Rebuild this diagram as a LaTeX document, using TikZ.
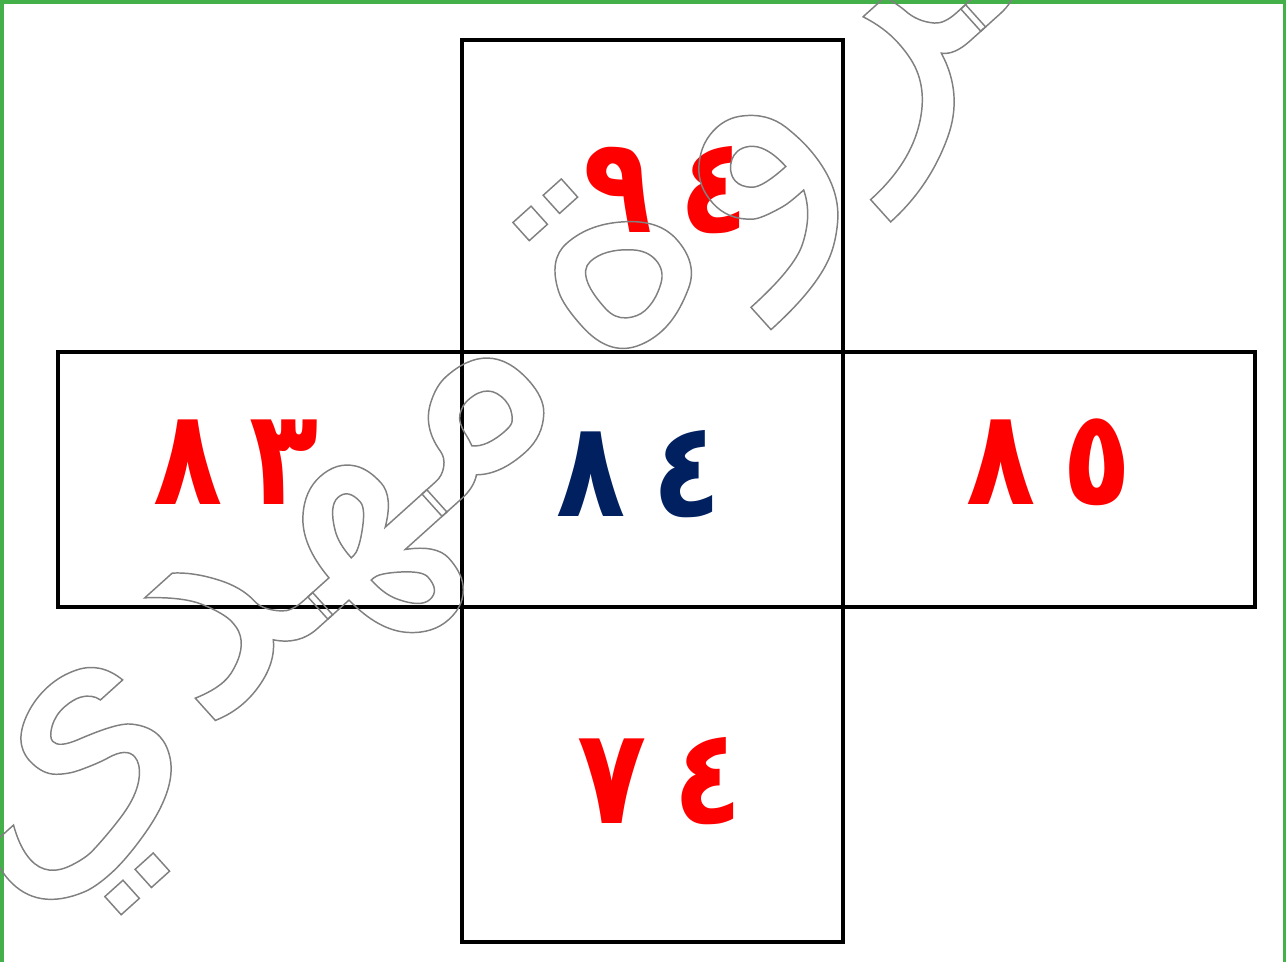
\documentclass[tikz,border=0pt]{standalone}
\usepackage{fontspec}
\newfontfamily\arabicfont[Script=Arabic]{DejaVu Sans}
\newfontfamily\digitfont[Script=Arabic, FakeStretch=0.85]{DejaVu Sans Bold}
\TeXXeTstate=1
\definecolor{frame}{RGB}{67,176,73}
\definecolor{navy}{RGB}{0,32,96}
\definecolor{mark}{RGB}{128,128,128}
\newcommand{\outlineon}{\special{pdf:code 1 Tr 1.1 w}}
\newcommand{\outlineoff}{\special{pdf:code 0 Tr}}
\newcommand{\gap}{\hspace{0.2em}}
\tikzset{
  digits/.style={font=\digitfont\fontsize{100}{100}\selectfont, text=red, inner sep=0pt, anchor=base},
  face/.style={line width=2.3pt},
  watermark/.style={font=\arabicfont\fontsize{250}{250}\selectfont, text=mark, inner sep=0pt}
}

\begin{document}
\begin{tikzpicture}[x=0.75pt,y=-0.75pt]
  \useasboundingbox (0,0) rectangle (1286,962);
  \draw[frame, line width=3.4pt] (2,2) rectangle (1285,975);
  \coordinate (up) at (462,40);
  \coordinate (down) at (843,942);
  \coordinate (west) at (58,352);
  \coordinate (east) at (1255,607);
  \draw[face] (up) rectangle (down);
  \draw[face] (west) rectangle (east);
  \node[digits] (top) at (666,233) {\beginR ٤\gap ٩\endR};
  \node[digits] (left) at (236,505) {\beginR ٣\gap ٨\endR};
  \node[digits, text=navy] (centre) at (639,517) {\beginR ٤\gap ٨\endR};
  \node[digits] (right) at (1049,505) {\beginR ٥\gap ٨\endR};
  \node[digits] (bottom) at (660,823) {\beginR ٤\gap ٧\endR};
  \node[watermark, rotate=42] (name) at (531,376) {\outlineon\beginR مروة\hspace{0.08em}مهدي\endR\outlineoff};
\end{tikzpicture}
\end{document}
